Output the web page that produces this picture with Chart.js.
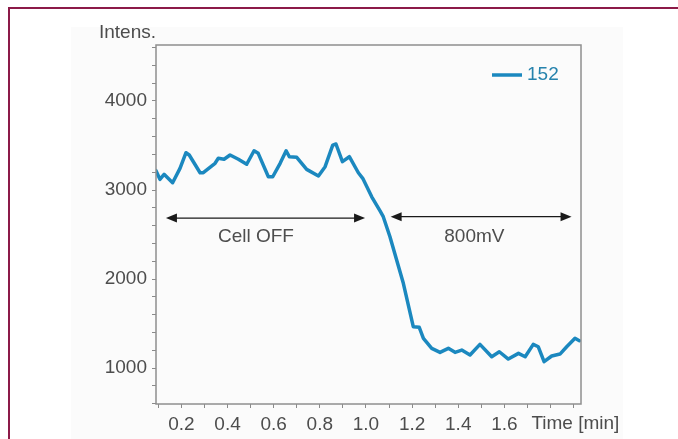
<!DOCTYPE html>
<html>
<head>
<meta charset="utf-8">
<script src="https://cdn.jsdelivr.net/npm/chart.js@4/dist/chart.umd.min.js"></script>
<style>
  html, body { margin: 0; padding: 0; background: #ffffff; }
  #wrap { position: relative; width: 678px; height: 439px; overflow: hidden; }
  #frame-top { position: absolute; left: 8px; top: 7px; width: 670px; height: 2px; background: #8c1a48; }
  #frame-left { position: absolute; left: 8px; top: 7px; width: 2px; height: 432px; background: #8c1a48; }
  #panel { position: absolute; left: 71px; top: 27px; width: 552px; height: 412px; background: #fbfbfb; }
  canvas { position: absolute; left: 0; top: 0; }
</style>
</head>
<body>
<div id="wrap">
  <div id="panel"></div>
  <div id="frame-top"></div>
  <div id="frame-left"></div>
  <canvas id="chart" width="678" height="439"></canvas>
</div>
<script>
// Extracted ion trace, m/z 152
const seriesName = '152';
const timeMin = [
  0.090, 0.107, 0.125, 0.162, 0.194, 0.220, 0.234, 0.281, 0.295, 0.346,
  0.360, 0.385, 0.411, 0.447, 0.483, 0.515, 0.533, 0.577, 0.596, 0.628,
  0.654, 0.668, 0.700, 0.743, 0.794, 0.823, 0.856, 0.870, 0.898, 0.928,
  0.967, 0.986, 1.025, 1.061, 1.075, 1.104, 1.162, 1.205, 1.231, 1.249,
  1.285, 1.321, 1.357, 1.386, 1.415, 1.451, 1.494, 1.545, 1.578, 1.617,
  1.661, 1.690, 1.725, 1.747, 1.772, 1.805, 1.841, 1.870, 1.906, 1.925
];
const intensity = [
  3217, 3120, 3176, 3082, 3243, 3419, 3393, 3194, 3194, 3300,
  3356, 3345, 3393, 3345, 3289, 3441, 3412, 3149, 3149, 3300,
  3441, 3374, 3367, 3232, 3157, 3262, 3505, 3517, 3318, 3374,
  3194, 3131, 2924, 2765, 2700, 2475, 1952, 1464, 1457, 1334,
  1221, 1176, 1221, 1176, 1202, 1146, 1266, 1127, 1183, 1101,
  1165, 1127, 1266, 1239, 1071, 1135, 1157, 1239, 1334, 1307
];

// Axis ticks
const xTickLabels = ['0.2', '0.4', '0.6', '0.8', '1.0', '1.2', '1.4', '1.6'];
const yTickLabels = ['1000', '2000', '3000', '4000'];
const xMinorStep = 0.1;
const yMinorStep = 200;

// Experiment phases (double arrows)
const phaseLabels = ['Cell OFF', '800mV'];
const phaseStart = [0.133, 1.107];
const phaseEnd = [0.996, 1.891];
const phaseLevel = [2685, 2700];
const phaseLabelX = [0.523, 1.47];
const phaseLabelLevel = 2480;

const FONT = '"Liberation Sans", Arial, sans-serif';
const LINE_COLOR = '#1b88bf';
const TEXT_COLOR = '#4d4d4d';

function minorTicks(min, max, step) {
  const out = [];
  const k0 = Math.ceil(min / step - 1e-9), k1 = Math.floor(max / step + 1e-9);
  for (let k = k0; k <= k1; k++) out.push({ value: Math.round(k * step * 1000) / 1000 });
  return out;
}

function drawArrowHead(ctx, x, y, dir) {
  ctx.beginPath();
  ctx.moveTo(x, y);
  ctx.lineTo(x - dir * 11, y - 4.5);
  ctx.lineTo(x - dir * 11, y + 4.5);
  ctx.closePath();
  ctx.fill();
}

const decorations = {
  id: 'decorations',
  afterDraw(chart) {
    const { ctx, chartArea: a, scales } = chart;
    const xs = scales.x, ys = scales.y;
    ctx.save();

    // plot frame
    ctx.strokeStyle = '#8f8f8f';
    ctx.lineWidth = 1.5;
    ctx.strokeRect(a.left, a.top, a.right - a.left, a.bottom - a.top);

    // axis titles
    ctx.fillStyle = TEXT_COLOR;
    ctx.font = '19px ' + FONT;
    ctx.textBaseline = 'middle';
    ctx.textAlign = 'right';
    ctx.fillText('Intens.', a.left, a.top - 12);
    ctx.textAlign = 'left';
    ctx.fillText('Time [min]', xs.getPixelForValue(1.6) + 27, a.bottom + 20);

    // phase arrows
    ctx.strokeStyle = '#1a1a1a';
    ctx.fillStyle = '#1a1a1a';
    ctx.lineWidth = 1.3;
    for (let i = 0; i < phaseLabels.length; i++) {
      const x0 = xs.getPixelForValue(phaseStart[i]);
      const x1 = xs.getPixelForValue(phaseEnd[i]);
      const y = ys.getPixelForValue(phaseLevel[i]);
      ctx.beginPath();
      ctx.moveTo(x0 + 6, y);
      ctx.lineTo(x1 - 6, y);
      ctx.stroke();
      drawArrowHead(ctx, x0, y, -1);
      drawArrowHead(ctx, x1, y, 1);
    }
    ctx.fillStyle = TEXT_COLOR;
    ctx.textAlign = 'center';
    for (let i = 0; i < phaseLabels.length; i++) {
      ctx.fillText(phaseLabels[i], xs.getPixelForValue(phaseLabelX[i]), ys.getPixelForValue(phaseLabelLevel));
    }

    // legend
    const ds = chart.data.datasets[0];
    const ly = a.top + 30;
    ctx.strokeStyle = ds.borderColor;
    ctx.lineWidth = 3.5;
    ctx.beginPath();
    ctx.moveTo(a.right - 89, ly);
    ctx.lineTo(a.right - 59, ly);
    ctx.stroke();
    ctx.fillStyle = '#2683ad';
    ctx.textAlign = 'left';
    ctx.fillText(ds.label, a.right - 54, ly);

    ctx.restore();
  }
};

new Chart(document.getElementById('chart'), {
  type: 'line',
  data: {
    datasets: [{
      label: seriesName,
      data: timeMin.map((t, i) => ({ x: t, y: intensity[i] })),
      borderColor: LINE_COLOR,
      borderWidth: 3.5,
      borderJoinStyle: 'round',
      borderCapStyle: 'round',
      pointRadius: 0,
      tension: 0,
      fill: false
    }]
  },
  options: {
    responsive: false,
    devicePixelRatio: 1,
    animation: false,
    events: [],
    layout: { padding: { left: 0, top: 45, right: 97, bottom: 0 } },
    plugins: { legend: { display: false }, tooltip: { enabled: false } },
    scales: {
      x: {
        type: 'linear',
        min: 0.09,
        max: 1.932,
        afterBuildTicks: s => { s.ticks = minorTicks(s.min, s.max, xMinorStep); },
        afterFit: s => { s.height = 35; },
        grid: { drawOnChartArea: false, drawTicks: true, tickLength: 4, color: '#8a8a8a', lineWidth: 1 },
        border: { display: false },
        ticks: {
          autoSkip: false,
          maxRotation: 0,
          padding: 5,
          color: TEXT_COLOR,
          font: { family: FONT, size: 19 },
          callback: v => {
            const s = v.toFixed(1);
            return xTickLabels.includes(s) ? s : '';
          }
        }
      },
      y: {
        type: 'linear',
        min: 596,
        max: 4629,
        afterBuildTicks: s => { s.ticks = minorTicks(s.min, s.max, yMinorStep); },
        afterFit: s => { s.width = 156; },
        grid: { drawOnChartArea: false, drawTicks: true, tickLength: 4, color: '#8a8a8a', lineWidth: 1 },
        border: { display: false },
        ticks: {
          autoSkip: false,
          padding: 5,
          color: TEXT_COLOR,
          font: { family: FONT, size: 19 },
          callback: v => {
            const s = String(Math.round(v));
            return yTickLabels.includes(s) ? s : '';
          }
        }
      }
    }
  },
  plugins: [decorations]
});
</script>
</body>
</html>
